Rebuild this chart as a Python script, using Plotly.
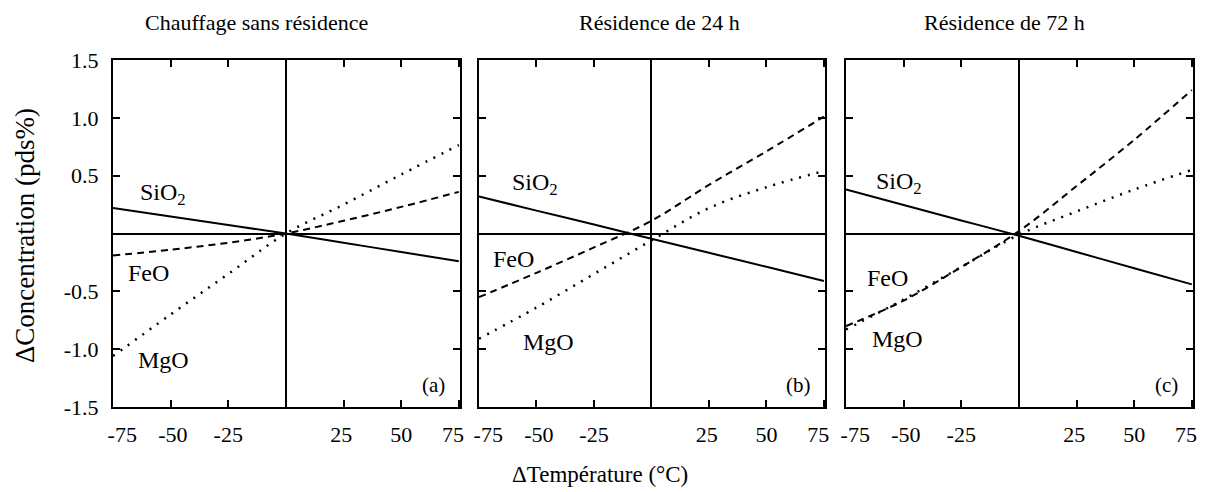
import plotly.graph_objects as go
from plotly.subplots import make_subplots

# température (°C)
temp = [-75, -50, -25, 0, 25, 50, 75]

# panneau (a) : chauffage sans résidence
sio2_a = [0.22, 0.147, 0.073, 0.0, -0.08, -0.16, -0.24]
feo_a = [-0.19, -0.14, -0.08, 0.0, 0.11, 0.23, 0.36]
mgo_a = [-1.06, -0.70, -0.35, 0.0, 0.25, 0.51, 0.765]

# panneau (b) : résidence de 24 h
sio2_b = [0.32, 0.198, 0.077, -0.045, -0.167, -0.288, -0.41]
feo_b = [-0.55, -0.34, -0.12, 0.11, 0.42, 0.71, 1.01]
mgo_b = [-0.91, -0.64, -0.35, -0.06, 0.22, 0.40, 0.54]

# panneau (c) : résidence de 72 h
sio2_c = [0.38, 0.247, 0.113, -0.02, -0.16, -0.30, -0.44]
feo_c = [-0.80, -0.58, -0.29, 0.02, 0.41, 0.81, 1.24]
mgo_c = [-0.83, -0.57, -0.29, -0.01, 0.19, 0.38, 0.55]

titles = ["Chauffage sans résidence", "Résidence de 24 h", "Résidence de 72 h"]
panel_tags = ["(a)", "(b)", "(c)"]

xtick_vals = [-75, -50, -25, 25, 50, 75]
# labels des bords décalés vers l'intérieur comme dans la figure d'origine
xlabel_pos = [-71, -49, -25, 24, 50, 72.5]
xlabel_text = ["-75", "-50", "-25", "25", "50", "75"]
ytick_vals = [-1.5, -1.0, -0.5, 0.5, 1.0, 1.5]
ytick_text = ["-1.5", "-1.0", "-0.5", "0.5", "1.0", "1.5"]

# positions des étiquettes (x, y) par panneau
lab_sio2 = [(-53.5, 0.34), (-50.7, 0.425), (-52, 0.44)]
lab_feo = [(-59.7, -0.34), (-59.8, -0.22), (-56.8, -0.385)]
lab_mgo = [(-53, -1.09), (-44.6, -0.94), (-52.6, -0.91)]

FONT = "Liberation Serif"
XR = [-75, 75.5]

fig = make_subplots(rows=1, cols=3, shared_yaxes=False, horizontal_spacing=0.0)

data = [(sio2_a, feo_a, mgo_a), (sio2_b, feo_b, mgo_b), (sio2_c, feo_c, mgo_c)]
for i, (s, f, m) in enumerate(data):
    col = i + 1
    fig.add_trace(go.Scatter(x=temp, y=s, mode="lines", line=dict(color="black", width=2),
                             line_shape="spline", showlegend=False), row=1, col=col)
    fig.add_trace(go.Scatter(x=temp, y=f, mode="lines", line=dict(color="black", width=2, dash="7px,5px"),
                             line_shape="spline", showlegend=False), row=1, col=col)
    fig.add_trace(go.Scatter(x=temp, y=m, mode="lines", line=dict(color="black", width=2.5, dash="2px,7px"),
                             line_shape="spline", showlegend=False), row=1, col=col)

domains = [[0.0, 0.3213], [0.3389, 0.6593], [0.6787, 1.0]]
for i in range(3):
    col = i + 1
    fig.update_xaxes(domain=domains[i], range=XR, tickvals=xtick_vals, showticklabels=False,
                     ticks="inside", ticklen=7, tickwidth=1.5, tickcolor="black",
                     showline=True, linecolor="black", linewidth=2, mirror="ticks",
                     zeroline=True, zerolinecolor="black", zerolinewidth=1.5,
                     showgrid=False, automargin=False, row=1, col=col)
    fig.update_yaxes(range=[-1.5, 1.5], tickvals=ytick_vals, ticktext=ytick_text,
                     showticklabels=(i == 0),
                     ticks="inside", ticklen=7, tickwidth=1.5, tickcolor="black",
                     showline=True, linecolor="black", linewidth=2, mirror="ticks",
                     zeroline=True, zerolinecolor="black", zerolinewidth=1.5,
                     showgrid=False, ticklabelstandoff=8, automargin=False,
                     tickfont=dict(family=FONT, size=22, color="black"), row=1, col=col)

    # axe superposé portant seulement les étiquettes de graduation
    base = "x" if i == 0 else f"x{col}"
    yname = "y" if i == 0 else f"y{col}"
    lab_ax = f"x{col + 3}"
    fig.update_layout({f"xaxis{col + 3}": dict(
        overlaying=base, anchor=yname, side="bottom", range=XR,
        tickmode="array", tickvals=xlabel_pos, ticktext=xlabel_text, ticks="",
        showline=False, zeroline=False, showgrid=False, automargin=False,
        ticklabelstandoff=12, tickfont=dict(family=FONT, size=22, color="black"))})
    fig.add_trace(go.Scatter(x=[], y=[], xaxis=lab_ax, yaxis=yname, mode="lines",
                             showlegend=False, hoverinfo="skip"))

    for txt, (lx, ly) in [("SiO<sub>2</sub>", lab_sio2[i]), ("FeO", lab_feo[i]), ("MgO", lab_mgo[i])]:
        fig.add_annotation(x=lx, y=ly, xref=base, yref=yname, text=txt, showarrow=False,
                           xanchor="center", yanchor="middle",
                           font=dict(family=FONT, size=24, color="black"))
    fig.add_annotation(x=64, y=-1.31, xref=base, yref=yname, text=panel_tags[i], showarrow=False,
                       xanchor="center", yanchor="middle",
                       font=dict(family=FONT, size=21, color="black"))

title_x = [0.1333, 0.5056, 0.825]
for i in range(3):
    fig.add_annotation(x=title_x[i], y=1.1095, xref="paper", yref="paper", text=titles[i],
                       showarrow=False, xanchor="center", yanchor="middle",
                       font=dict(family=FONT, size=22, color="black"))

fig.add_annotation(x=(600 - 113) / 1080, y=-0.195, xref="paper", yref="paper",
                   text="\u0394Température (°C)", showarrow=False, xanchor="center", yanchor="middle",
                   font=dict(family=FONT, size=23, color="black"))
fig.add_annotation(x=(25 - 113) / 1080, y=(407 - 236) / 347, xref="paper", yref="paper",
                   text="\u0394Concentration (pds%)", showarrow=False, textangle=-90,
                   xanchor="center", yanchor="middle",
                   font=dict(family=FONT, size=27, color="black"))

# la page ajoute une marge de 8 px : on la compense
fig.update_layout(width=1197, height=484, margin=dict(l=105, r=12, t=52, b=85),
                  plot_bgcolor="white", paper_bgcolor="white",
                  font=dict(family=FONT, color="black"))

fig.write_html("out.html")
